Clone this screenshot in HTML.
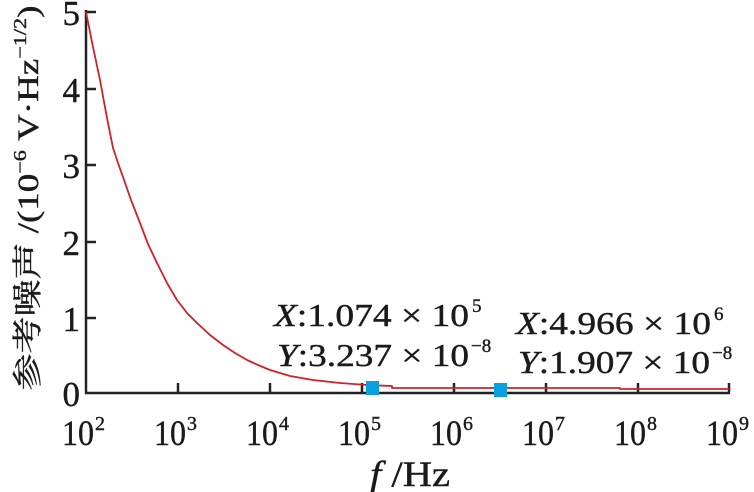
<!DOCTYPE html>
<html><head><meta charset="utf-8"><style>
body{margin:0;background:#fff}
svg{display:block}
text{font-family:"Liberation Serif","Noto Serif CJK SC",serif;fill:#1a1a1a;stroke:#1a1a1a;stroke-width:0.4}
</style></head><body>
<svg width="754" height="492" viewBox="0 0 754 492" xmlns="http://www.w3.org/2000/svg">
<g stroke="#222" stroke-width="2.5" fill="none">
<line x1="86" y1="10" x2="86" y2="394"/>
<line x1="85" y1="393" x2="730" y2="393"/>
<line x1="86" y1="12" x2="96" y2="12"/>
<line x1="86" y1="89" x2="96" y2="89"/>
<line x1="86" y1="165" x2="96" y2="165"/>
<line x1="86" y1="242" x2="96" y2="242"/>
<line x1="86" y1="318" x2="96" y2="318"/>
<line x1="178" y1="393" x2="178" y2="383"/>
<line x1="270" y1="393" x2="270" y2="383"/>
<line x1="362" y1="393" x2="362" y2="383"/>
<line x1="454" y1="393" x2="454" y2="383"/>
<line x1="546" y1="393" x2="546" y2="383"/>
<line x1="638" y1="393" x2="638" y2="383"/>
<line x1="729" y1="393" x2="729" y2="383"/>
</g>
<path d="M86,12 L93,47 L100,80 L107,118 L113,148 L118,163 L123,177 L131,200 L140,223 L148,244 L157,263 L167,283 L177,300 L187,313 L197,323 L210,335 L223,345 L235,353 L247,360 L258,365 L270,370 L290,376 L313,380 L340,383 L367,385 L392,386 L392,388 L620,388 L620,389 L729,389" stroke="#d0202a" stroke-width="1.8" fill="none" stroke-linejoin="round"/>
<rect x="366" y="381" width="13" height="14" fill="#0aa0e0"/>
<rect x="494" y="383" width="13" height="14" fill="#0aa0e0"/>
<g font-size="35" text-anchor="end">
<text x="80" y="25">5</text><text x="80" y="102">4</text><text x="80" y="178">3</text>
<text x="80" y="255">2</text><text x="80" y="331">1</text><text x="80" y="406">0</text>
</g>
<g font-size="36">
<text x="62" y="445" textLength="32" lengthAdjust="spacingAndGlyphs">10</text><text x="95" y="430" font-size="20">2</text>
<text x="154" y="445" textLength="32" lengthAdjust="spacingAndGlyphs">10</text><text x="187" y="430" font-size="20">3</text>
<text x="246" y="445" textLength="32" lengthAdjust="spacingAndGlyphs">10</text><text x="279" y="430" font-size="20">4</text>
<text x="338" y="445" textLength="32" lengthAdjust="spacingAndGlyphs">10</text><text x="371" y="430" font-size="20">5</text>
<text x="430" y="445" textLength="32" lengthAdjust="spacingAndGlyphs">10</text><text x="463" y="430" font-size="20">6</text>
<text x="522" y="445" textLength="32" lengthAdjust="spacingAndGlyphs">10</text><text x="555" y="430" font-size="20">7</text>
<text x="614" y="445" textLength="32" lengthAdjust="spacingAndGlyphs">10</text><text x="647" y="430" font-size="20">8</text>
<text x="706" y="445" textLength="32" lengthAdjust="spacingAndGlyphs">10</text><text x="739" y="430" font-size="20">9</text>
<text x="370" y="486" textLength="80" lengthAdjust="spacingAndGlyphs"><tspan font-style="italic">f</tspan> /Hz</text>
</g>
<g font-size="32">
<text x="274" y="326" textLength="195" lengthAdjust="spacingAndGlyphs"><tspan font-style="italic">X</tspan>:1.074 × 10</text><text x="472" y="312" font-size="19">5</text>
<text x="277" y="366" textLength="192" lengthAdjust="spacingAndGlyphs"><tspan font-style="italic">Y</tspan>:3.237 × 10</text><text x="471" y="352" font-size="19">−8</text>
<text x="516" y="334" textLength="195" lengthAdjust="spacingAndGlyphs"><tspan font-style="italic">X</tspan>:4.966 × 10</text><text x="714" y="320" font-size="19">6</text>
<text x="518" y="373" textLength="192" lengthAdjust="spacingAndGlyphs"><tspan font-style="italic">Y</tspan>:1.907 × 10</text><text x="712" y="359" font-size="19">−8</text>
</g>
<text transform="translate(38,198) rotate(-90)" font-size="30" text-anchor="middle" textLength="385" lengthAdjust="spacingAndGlyphs">参考噪声 /(10<tspan font-size="18" dy="-12">−6</tspan><tspan dy="12"> V·Hz</tspan><tspan font-size="18" dy="-12">−1/2</tspan><tspan dy="12">)</tspan></text>
</svg>
</body></html>
